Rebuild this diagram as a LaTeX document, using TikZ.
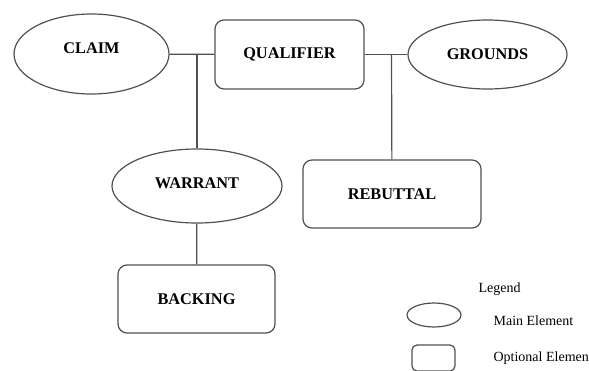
\documentclass[tikz,border=0pt]{standalone}
\usepackage{fontspec}
\setmainfont{Liberation Serif}
\usetikzlibrary{shapes.geometric}
\definecolor{edge}{HTML}{505050}
\begin{document}
\begin{tikzpicture}[x=1pt,y=-1pt,line width=1.2pt,draw=edge]
        \useasboundingbox (0,0) rectangle (589,370);
        \tikzset{
            main/.style={ellipse,draw=edge,line width=1.2pt,inner sep=0pt,font=\fontsize{16.3}{19}\selectfont\bfseries},
            optional/.style={rectangle,rounded corners=9pt,draw=edge,line width=1.2pt,inner sep=0pt,font=\fontsize{16.3}{19}\selectfont\bfseries},
            legendtext/.style={anchor=west,inner sep=0pt,font=\fontsize{14}{16}\selectfont}
        }
        \node[main,minimum width=155,minimum height=80,text depth=12pt] (CLAIM) at (91.5,54) {CLAIM};
        \node[optional,minimum width=149,minimum height=69] (QUALIFIER) at (289.5,54.5) {QUALIFIER};
        \node[main,minimum width=159,minimum height=69] (GROUNDS) at (487.5,54.5) {GROUNDS};
        \node[main,minimum width=170,minimum height=74,text depth=6pt] (WARRANT) at (197,186) {WARRANT};
        \node[optional,minimum width=178,minimum height=68] (REBUTTAL) at (392,194) {REBUTTAL};
        \node[optional,minimum width=157,minimum height=68] (BACKING) at (196.5,299) {BACKING};
        \coordinate (J1) at (197,54);
        \coordinate (J2) at (391.5,54);
        \draw (CLAIM) -- (QUALIFIER);
        \draw (QUALIFIER) -- (GROUNDS);
        \draw (J1) -- (WARRANT);
        \draw (J2) -- (REBUTTAL);
        \draw (WARRANT) -- (BACKING);
        % legend
        \node[legendtext] (LEGEND) at (478,289) {Legend};
        \node[main,minimum width=54,minimum height=24] (legMain) at (434,315) {};
        \node[optional,rounded corners=5pt,minimum width=43,minimum height=26] (legOpt) at (433.5,358) {};
        \node[legendtext] (txtMain) at (493,321) {Main Element};
        \node[legendtext] (txtOpt) at (493,358) {Optional Element};
    \end{tikzpicture}
\end{document}
